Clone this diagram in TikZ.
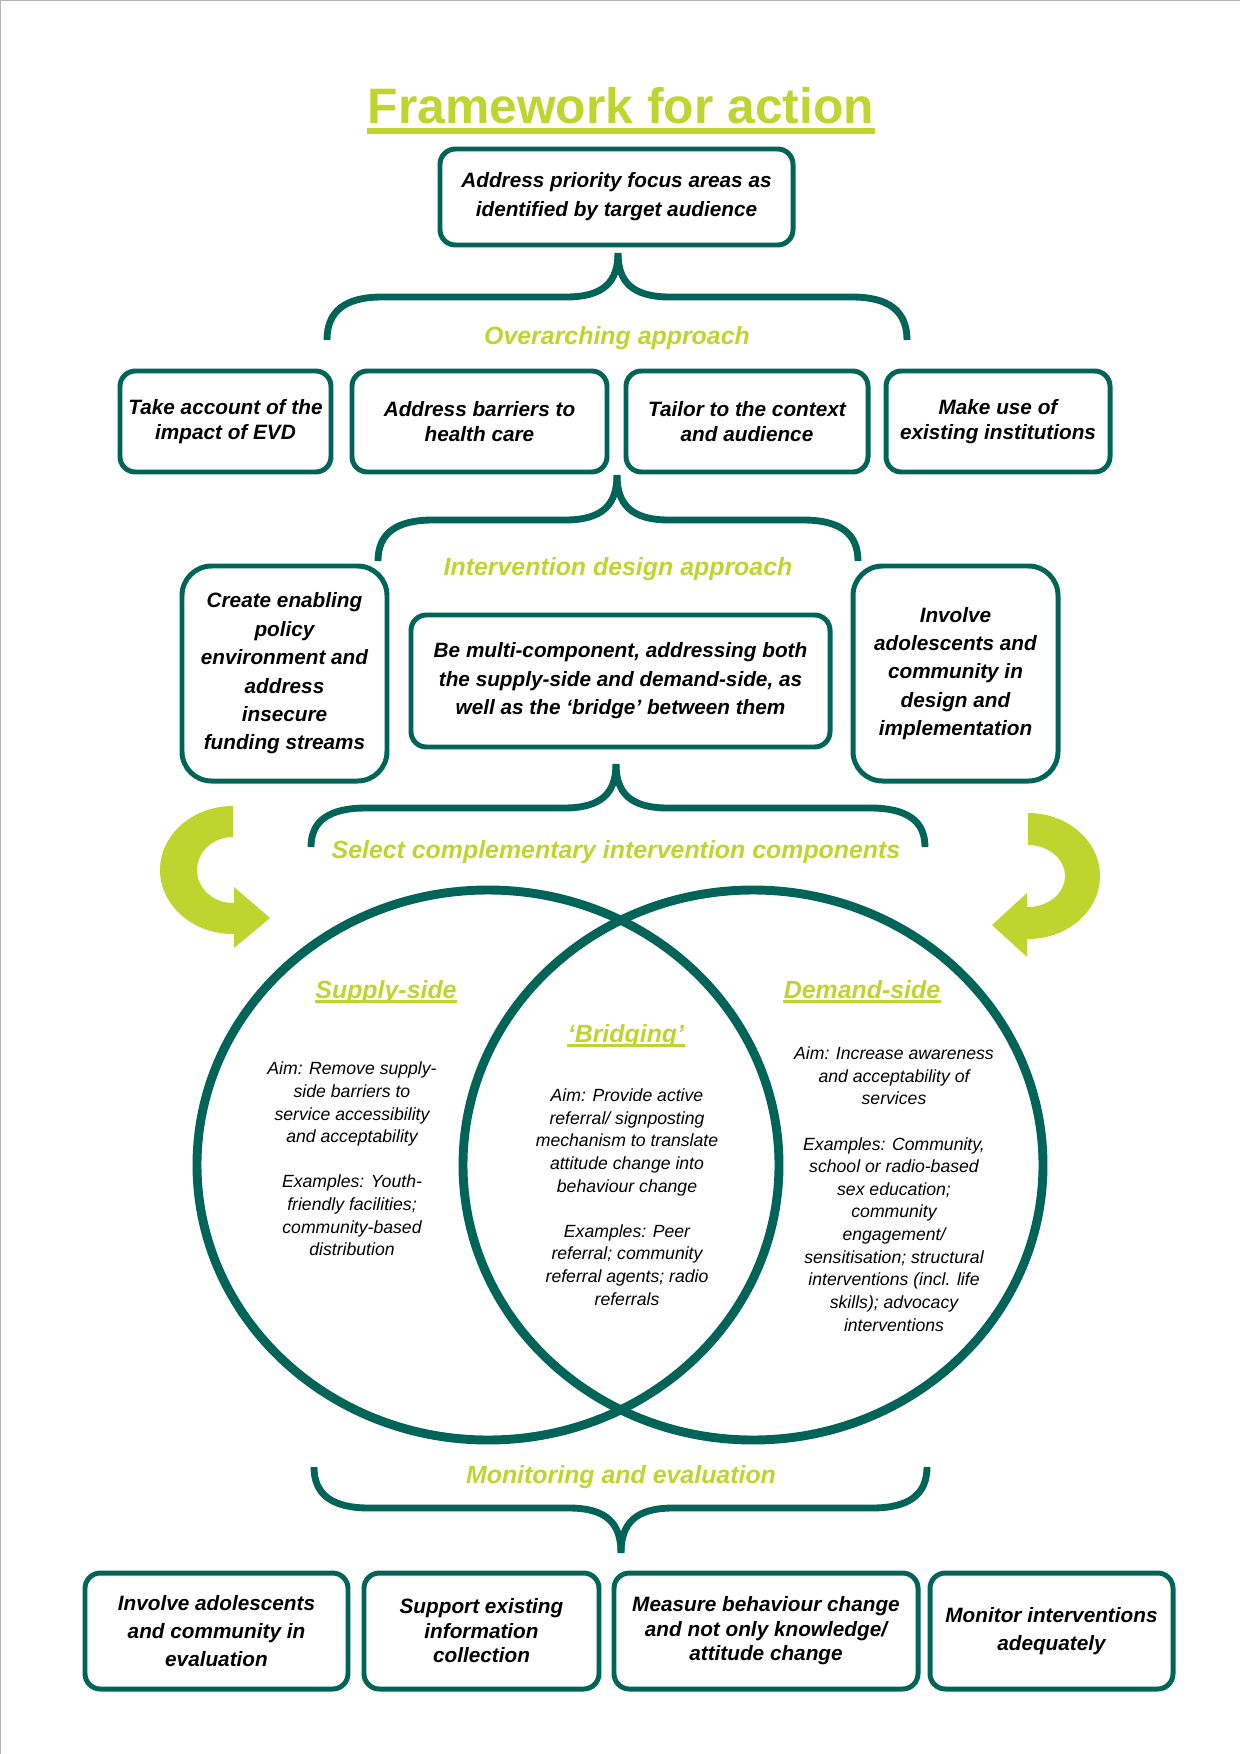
\documentclass[tikz,border=0pt]{standalone}
\usepackage{fontspec}
\setmainfont{Liberation Sans}
\usepackage{tikz}
\usetikzlibrary{calc}

\definecolor{frameteal}{RGB}{0,100,88}
\definecolor{framelime}{RGB}{190,213,48}
\newlength{\pxu}
\setlength{\pxu}{0.016935cm}

\tikzset{
	actionbox/.style={draw=frameteal, line width=2.4pt, rounded corners=0.26cm, align=center, inner sep=0pt,
		font=\bfseries\itshape\fontsize{10}{13.7}\selectfont},
	stagelabel/.style={text=framelime, anchor=base, inner sep=0pt, font=\bfseries\itshape\fontsize{12}{14}\selectfont},
	venntext/.style={align=center, inner sep=0pt, font=\itshape\fontsize{8.5}{10.9}\selectfont},
	brace/.style={draw=frameteal, line width=3.3pt},
}
% curly brace: left x, right x, middle x, end y, bar y, tip y
\newcommand{\curlybrace}[6]{%
	\draw[brace] (#1,#4) .. controls (#1,{#4+0.67*(#5-#4)}) and (#1+18,#5) .. (#1+55,#5) -- (#3-52,#5) .. controls (#3-14,#5) and (#3,{#5+0.35*(#6-#5)}) .. (#3,#6);
	\draw[brace] (#2,#4) .. controls (#2,{#4+0.67*(#5-#4)}) and (#2-18,#5) .. (#2-55,#5) -- (#3+52,#5) .. controls (#3+14,#5) and (#3,{#5+0.35*(#6-#5)}) .. (#3,#6);}

\begin{document}
\begin{tikzpicture}[x=0.016935cm, y=-0.016935cm]
			%%%%% START %%%%%
			\useasboundingbox (0,0) rectangle (1240,1754);
			\draw[black!30, line width=0.8pt] (0,1754) -- (0,0) -- (1240,0);
			
			\node[text=framelime, anchor=base, inner sep=0pt, font=\bfseries\fontsize{24}{28}\selectfont] (title) at (621,123) {Framework for action};
			\draw[framelime, line width=2.6pt] ([yshift=-3.8pt]title.base west) -- ([yshift=-3.8pt]title.base east);
			
			\node[actionbox, minimum width=353\pxu, minimum height=96\pxu, font=\bfseries\itshape\fontsize{10}{13.9}\selectfont] (focus) at (616.5,197) {Address priority focus areas as\\identified by target audience};
			
			\curlybrace{327}{907}{618}{340}{297}{253}
			\node[stagelabel] (overarch) at (617,344) {Overarching approach};
			
			\node[actionbox, minimum width=211\pxu, minimum height=101\pxu, font=\bfseries\itshape\fontsize{10}{12}\selectfont] (evd) at (225.5,421.5) {Take account of the\\impact of EVD};
			\node[actionbox, minimum width=255\pxu, minimum height=101\pxu, font=\bfseries\itshape\fontsize{10}{12}\selectfont] (barriers) at (479.5,421.5) {Address barriers to\\health care};
			\node[actionbox, minimum width=242\pxu, minimum height=101\pxu, font=\bfseries\itshape\fontsize{10}{12}\selectfont] (tailor) at (747,421.5) {Tailor to the context\\and audience};
			\node[actionbox, minimum width=224\pxu, minimum height=101\pxu, font=\bfseries\itshape\fontsize{10}{12}\selectfont] (institutions) at (998,421.5) {Make use of\\existing institutions};
			
			\curlybrace{378}{858}{617}{561}{520}{475}
			\node[stagelabel] (design) at (618,575) {Intervention design approach};
			
			\node[actionbox, rounded corners=0.5cm, minimum width=205\pxu, minimum height=215\pxu] (policy) at (284.5,673.5) {Create enabling\\policy\\environment and\\address\\insecure\\funding streams};
			\node[actionbox, minimum width=419\pxu, minimum height=132\pxu] (multi) at (620.5,681) {Be multi-component, addressing both\\the supply-side and demand-side, as\\well as the `bridge' between them};
			\node[actionbox, rounded corners=0.5cm, minimum width=205\pxu, minimum height=215\pxu] (involve) at (955.5,673.5) {Involve\\adolescents and\\community in\\design and\\implementation};
			
			\curlybrace{311}{925}{616}{847}{808}{764}
			\node[stagelabel] (select) at (616,858) {Select complementary intervention components};
			
			\fill[framelime] (233,806) arc[start angle=270, end angle=90, x radius=73, y radius=64] -- (234,934) -- (234,948) -- (270,918) -- (234,887) -- (234,903) -- (233,903) arc[start angle=90, end angle=270, x radius=36, y radius=33] -- cycle;
			\fill[framelime] (1028,813) arc[start angle=-90, end angle=90, x radius=72, y radius=63] -- (1027,939) -- (1027,957) -- (992,925) -- (1027,893) -- (1027,907) -- (1028,907) arc[start angle=90, end angle=-90, x radius=37, y radius=31] -- cycle;
			
			\draw[frameteal, line width=4.3pt] (488,1165) ellipse [x radius=291, y radius=275];
			\draw[frameteal, line width=4.3pt] (753,1165) ellipse [x radius=290, y radius=275];
			
			\node[stagelabel] (supply) at (386,998) {Supply-side};
			\draw[framelime, line width=1.5pt] ([yshift=-1.6pt]supply.base west) -- ([yshift=-1.6pt]supply.base east);
			\node[stagelabel] (bridging) at (626,1042) {`Bridging'};
			\draw[framelime, line width=1.5pt] ([yshift=-1.6pt]bridging.base west) -- ([yshift=-1.6pt]bridging.base east);
			\node[stagelabel] (demand) at (862,998) {Demand-side};
			\draw[framelime, line width=1.5pt] ([yshift=-1.6pt]demand.base west) -- ([yshift=-1.6pt]demand.base east);
			
			\node[venntext] (supplytext) at (352,1159) {Aim: Remove supply-\\side barriers to\\service accessibility\\and acceptability\\[10.9pt]Examples: Youth-\\friendly facilities;\\community-based\\distribution};
			\node[venntext] (bridgetext) at (627,1197) {Aim: Provide active\\referral/ signposting\\mechanism to translate\\attitude change into\\behaviour change\\[10.9pt]Examples: Peer\\referral; community\\referral agents; radio\\referrals};
			\node[venntext] (demandtext) at (894,1189) {Aim: Increase awareness\\and acceptability of\\services\\[10.9pt]Examples: Community,\\school or radio-based\\sex education;\\community\\engagement/\\sensitisation; structural\\interventions (incl. life\\skills); advocacy\\interventions};
			
			\curlybrace{314}{927}{621}{1467}{1508}{1553}
			\node[stagelabel] (monitor) at (621,1483) {Monitoring and evaluation};
			
			\node[actionbox, minimum width=263\pxu, minimum height=116\pxu] (evaluation) at (216.5,1631) {Involve adolescents\\and community in\\evaluation};
			\node[actionbox, minimum width=235\pxu, minimum height=116\pxu, font=\bfseries\itshape\fontsize{10}{11.8}\selectfont] (collection) at (481.5,1631) {Support existing\\information\\collection};
			\node[actionbox, minimum width=304\pxu, minimum height=116\pxu, font=\bfseries\itshape\fontsize{10}{11.8}\selectfont] (behaviour) at (766,1631) {Measure behaviour change\\and not only knowledge/\\attitude change};
			\node[actionbox, minimum width=243\pxu, minimum height=116\pxu] (adequate) at (1051.5,1631) {Monitor interventions\\adequately};
			
			%%%%% END %%%%%
		\end{tikzpicture}
\end{document}
